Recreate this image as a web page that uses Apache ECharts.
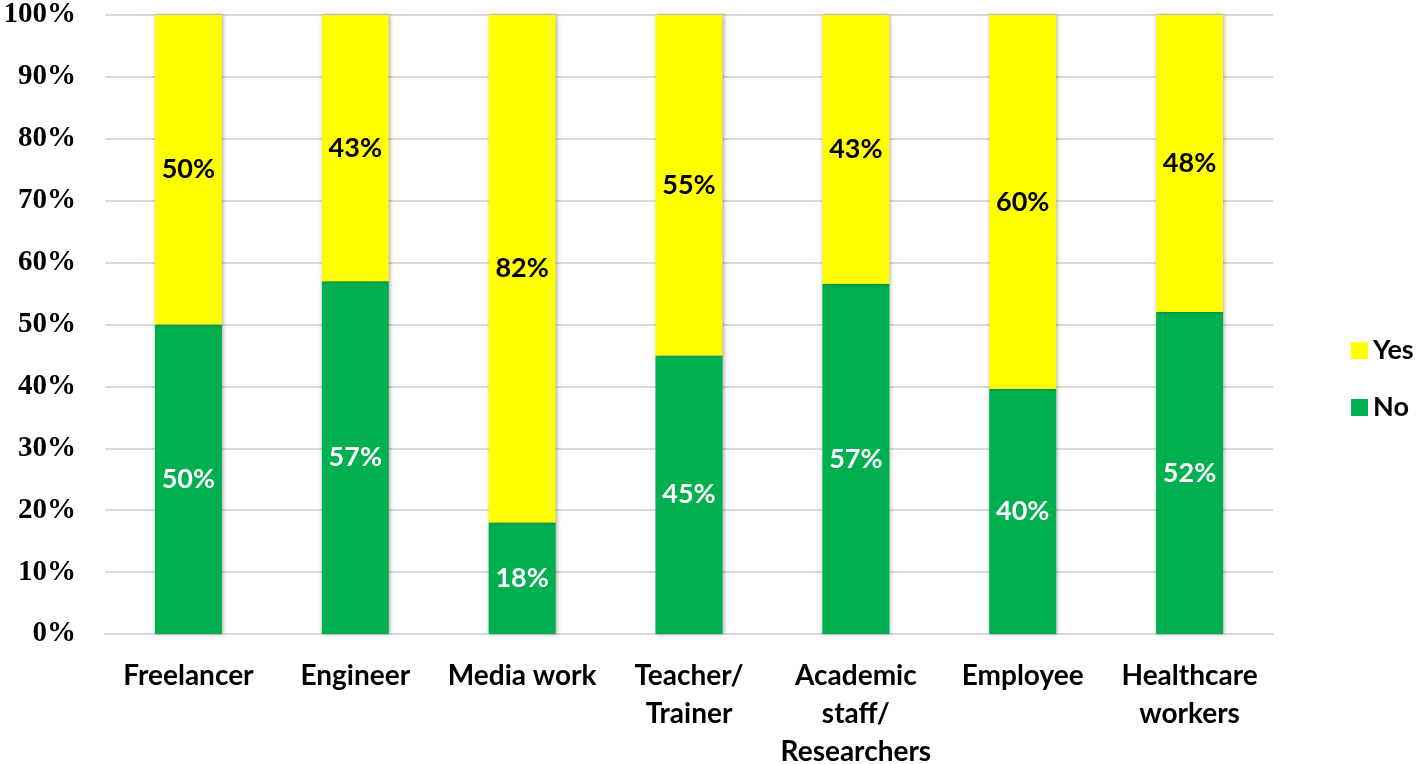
<!DOCTYPE html>
<html>
<head>
<meta charset="utf-8">
<script src="https://cdn.jsdelivr.net/npm/echarts@6/dist/echarts.min.js"></script>
<style>
  html, body { margin: 0; padding: 0; background: #fff; }
  #chart { width: 1424px; height: 764px; }
</style>
</head>
<body>
<div id="chart"></div>
<script>
const categories = ["Freelancer", "Engineer", "Media work", "Teacher/\nTrainer", "Academic\nstaff/\nResearchers", "Employee", "Healthcare\nworkers"];
const noValues = [50, 57, 18, 45, 56.6, 39.6, 52];
const yesValues = [50, 43, 82, 55, 43.4, 60.4, 48];
const yTicks = [0, 10, 20, 30, 40, 50, 60, 70, 80, 90, 100];

const chart = echarts.init(document.getElementById("chart"));

const barShadow = {
  shadowColor: "rgba(0, 0, 0, 0.35)",
  shadowBlur: 4,
  shadowOffsetX: 1
};

const option = {
  animation: false,
  grid: {
    left: 105,
    right: 151,
    top: 15,
    bottom: 130,
    outerBoundsMode: "none"
  },
  legend: {
    data: ["Yes", "No"],
    orient: "vertical",
    left: 1346,
    top: 332,
    itemWidth: 17,
    itemHeight: 17,
    itemGap: 30,
    icon: "rect",
    textStyle: {
      fontFamily: "Lato",
      fontWeight: "bold",
      fontSize: 27,
      color: "#000"
    }
  },
  xAxis: {
    type: "category",
    data: categories,
    axisTick: { show: false },
    axisLine: { lineStyle: { color: "#d9d9d9", width: 2 } },
    axisLabel: {
      interval: 0,
      margin: 23,
      fontFamily: "Lato",
      fontWeight: "bold",
      fontSize: 28,
      lineHeight: 38,
      color: "#000"
    }
  },
  yAxis: {
    type: "value",
    min: yTicks[0],
    max: yTicks[yTicks.length - 1],
    interval: 10,
    axisLine: { show: false },
    axisTick: { show: false },
    splitLine: { lineStyle: { color: "#d9d9d9", width: 2 } },
    axisLabel: {
      margin: 29,
      formatter: "{value}%",
      fontFamily: "Liberation Serif",
      fontWeight: "bold",
      fontSize: 29,
      color: "#000"
    }
  },
  series: [
    {
      name: "No",
      type: "bar",
      stack: "total",
      barWidth: 67,
      data: noValues,
      itemStyle: Object.assign({ color: "#00b050" }, barShadow),
      label: {
        show: true,
        position: "inside",
        formatter: p => Math.round(p.value) + "%",
        fontFamily: "Lato",
        fontWeight: "bold",
        fontSize: 27,
        color: "#fff"
      }
    },
    {
      name: "Yes",
      type: "bar",
      stack: "total",
      barWidth: 67,
      data: yesValues,
      itemStyle: Object.assign({ color: "#ffff00" }, barShadow),
      label: {
        show: true,
        position: "inside",
        formatter: p => Math.round(p.value) + "%",
        fontFamily: "Lato",
        fontWeight: "bold",
        fontSize: 27,
        color: "#000"
      }
    }
  ]
};

chart.setOption(option);
</script>
</body>
</html>
